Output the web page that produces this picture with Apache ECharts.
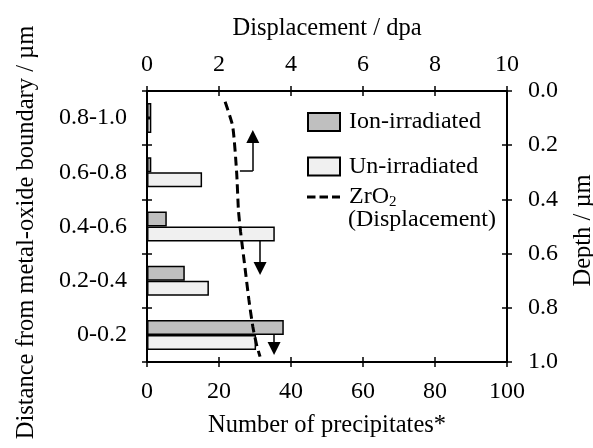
<!DOCTYPE html>
<html><head><meta charset="utf-8">
<script src="https://cdn.jsdelivr.net/npm/echarts@6/dist/echarts.min.js"></script>
<style>html,body{margin:0;padding:0;background:#fff}#c{width:593px;height:448px}</style>
</head><body><div id="c"></div>
<script>
// ---- data ----
const categories = ['0-0.2', '0.2-0.4', '0.4-0.6', '0.6-0.8', '0.8-1.0'];
const ionIrradiated = [38, 10.5, 5.5, 1.2, 1.2];
const unIrradiated = [30.3, 17.2, 35.5, 15.3, 1.2];
// displacement profile: [dpa, depth (µm)]
const displacementDpa = [2.17, 2.38, 2.49, 2.54, 2.60, 2.72, 2.83, 2.94, 3.05, 3.14];
const displacementDepth = [0.04, 0.13, 0.30, 0.44, 0.52, 0.65, 0.77, 0.87, 0.94, 0.98];
const bottomTicks = [0, 20, 40, 60, 80, 100];
const topTicks = [0, 2, 4, 6, 8, 10];
const depthTicks = [0.0, 0.2, 0.4, 0.6, 0.8, 1.0];
// arrow annotations in [dpa, depth] units: [start, end, hasHead]
const arrows = [
  [[2.58, 0.295], [2.94, 0.295], false],
  [[2.94, 0.295], [2.94, 0.168], true],
  [[3.14, 0.553], [3.14, 0.655], true],
  [[3.53, 0.900], [3.53, 0.950], true]
];

const FONT = 'Liberation Serif';
const FS = 24;
const lineData = displacementDpa.map((d, i) => [d, displacementDepth[i]]);

const chart = echarts.init(document.getElementById('c'), null, {renderer: 'canvas'});
const axisLine = {show: true, onZero: false, lineStyle: {color: '#000', width: 2}};
const lbl = {color: '#000', fontFamily: FONT, fontSize: FS};
const nameStyle = {color: '#000', fontFamily: FONT, fontSize: 24.5};

const option = {
  animation: false,
  backgroundColor: '#fff',
  textStyle: {fontFamily: FONT},
  grid: {left: 147, right: 86, top: 91, bottom: 86, containLabel: false, outerBoundsMode: 'none'},
  legend: [{
    data: [{name: 'Ion-irradiated', icon: 'rect'}, {name: 'Un-irradiated', icon: 'rect'}],
    orient: 'vertical', left: 302, top: 105, itemWidth: 32, itemHeight: 18, itemGap: 20.5,
    textStyle: {color: '#000', fontFamily: FONT, fontSize: FS, padding: [0, 0, 0, 4]},
    selectedMode: false
  }, {
    data: [{name: 'ZrO2', icon: 'path://M0,0h8.5v3h-8.5z M12.5,0h8.5v3h-8.5z M25,0h8v3h-8z'}],
    orient: 'vertical', left: 302, top: 180, itemWidth: 33, itemHeight: 3,
    formatter: () => '{n|ZrO}{s|2}',
    textStyle: {color: '#000', fontFamily: FONT, fontSize: FS, padding: [0, 0, 0, 4],
      rich: {n: {fontFamily: FONT, fontSize: FS, color: '#000'},
             s: {fontFamily: FONT, fontSize: 15, color: '#000', padding: [10, 0, 0, 0]}}},
    selectedMode: false
  }],
  graphic: [{
    type: 'text', left: 348, top: 208,
    style: {text: '(Displacement)', fill: '#000', font: FS + 'px "' + FONT + '"'}
  }],
  xAxis: [{
    type: 'value', position: 'bottom', min: 0, max: 100, interval: 20,
    axisLine: axisLine, axisTick: {show: true, length: 5, lineStyle: {color: '#000', width: 1.5}},
    axisLabel: Object.assign({margin: 18, formatter: v => bottomTicks.includes(v) ? String(v) : ''}, lbl),
    splitLine: {show: false},
    name: 'Number of precipitates*', nameLocation: 'middle', nameGap: 51, nameTextStyle: nameStyle
  }, {
    type: 'value', position: 'top', min: 0, max: 10, interval: 2,
    axisLine: axisLine, axisTick: {show: true, length: 5, lineStyle: {color: '#000', width: 1.5}},
    axisLabel: Object.assign({margin: 14, formatter: v => topTicks.includes(v) ? String(v) : ''}, lbl),
    splitLine: {show: false},
    name: 'Displacement / dpa', nameLocation: 'middle', nameGap: 50, nameTextStyle: nameStyle
  }, {
    type: 'value', position: 'bottom', min: 0, max: 100, interval: 20,
    axisLine: {show: false, onZero: false}, axisLabel: {show: false}, splitLine: {show: false},
    axisTick: {show: true, inside: true, length: 5, lineStyle: {color: '#000', width: 1.5}}
  }, {
    type: 'value', position: 'top', min: 0, max: 10, interval: 2,
    axisLine: {show: false, onZero: false}, axisLabel: {show: false}, splitLine: {show: false},
    axisTick: {show: true, inside: true, length: 5, lineStyle: {color: '#000', width: 1.5}}
  }],
  yAxis: [{
    type: 'category', position: 'left', data: categories,
    axisLine: axisLine, axisTick: {show: true, length: 5, lineStyle: {color: '#000', width: 1.5}},
    axisLabel: Object.assign({margin: 20}, lbl),
    name: 'Distance from metal-oxide boundary / µm', nameLocation: 'middle', nameGap: 108,
    nameTextStyle: Object.assign({padding: [0, 12, 0, 0]}, nameStyle)
  }, {
    type: 'value', position: 'right', min: 0, max: 1, interval: 0.2, inverse: true,
    axisLine: axisLine, axisTick: {show: true, length: 5, lineStyle: {color: '#000', width: 1.5}},
    axisLabel: Object.assign({margin: 21, formatter: v => v.toFixed(1)}, lbl),
    splitLine: {show: false},
    name: 'Depth / µm', nameLocation: 'middle', nameGap: 64,
    nameTextStyle: Object.assign({padding: [0, 8, 0, 0]}, nameStyle)
  }, {
    type: 'category', position: 'left', data: categories,
    axisLine: {show: false, onZero: false}, axisLabel: {show: false},
    axisTick: {show: true, inside: true, length: 5, lineStyle: {color: '#000', width: 1.5}}
  }, {
    type: 'value', position: 'right', min: 0, max: 1, interval: 0.2, inverse: true,
    axisLine: {show: false, onZero: false}, axisLabel: {show: false}, splitLine: {show: false},
    axisTick: {show: true, inside: true, length: 5, lineStyle: {color: '#000', width: 1.5}}
  }],
  series: [{
    name: 'Ion-irradiated', type: 'bar', xAxisIndex: 0, yAxisIndex: 0,
    data: ionIrradiated, barWidth: 15, barGap: '0%',
    itemStyle: {color: '#bfbfbf', borderColor: '#000', borderWidth: 1.5}
  }, {
    name: 'Un-irradiated', type: 'bar', xAxisIndex: 0, yAxisIndex: 0,
    data: unIrradiated, barWidth: 15, barGap: '0%',
    itemStyle: {color: '#f0f0f0', borderColor: '#000', borderWidth: 1.5}
  }, {
    name: 'ZrO2', type: 'line', xAxisIndex: 1, yAxisIndex: 1,
    data: lineData, symbol: 'none', smooth: 0.2,
    lineStyle: {color: '#000', width: 3, type: [9, 5]},
    itemStyle: {color: '#000'},
    markLine: {
      silent: true, symbol: ['none', 'triangle'], symbolSize: [13, 13],
      label: {show: false},
      lineStyle: {color: '#000', width: 1.5, type: 'solid'},
      data: arrows.map(a => [
        {coord: a[0], symbol: 'none'},
        {coord: a[1], symbol: a[2] ? 'triangle' : 'none'}
      ])
    }
  }]
};
chart.setOption(option);
</script>
</body></html>
